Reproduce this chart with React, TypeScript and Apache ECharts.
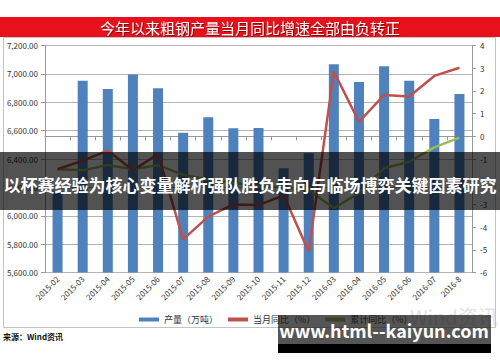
import React, { useEffect, useRef } from "react";
import * as echarts from "echarts";

const categories = ["2015-02","2015-03","2015-04","2015-05","2015-06","2015-07","2015-08","2015-09","2015-10","2015-11","2015-12","2016-03","2016-04","2016-05","2016-06","2016-07","2016-8"];
const output = [6175, 6952, 6893, 6995, 6898, 6585, 6694, 6616, 6618, 6334, 6440, 7067, 6943, 7053, 6952, 6682, 6858];
const monthYoY = [-1.45, -1.07, -0.63, -1.5, -0.78, -4.54, -3.54, -3.0, -3.03, -2.6, -5.08, 2.85, 0.64, 1.82, 1.75, 2.66, 3.02];
const cumYoY = [-1.45, -1.5, -1.26, -1.45, -1.26, -1.7, -1.9, -2.05, -2.2, -2.25, -2.37, -3.17, -2.5, -1.41, -1.12, -0.49, -0.06];
const seriesNames = ["产量（万吨）", "当月同比（%）", "累计同比（%）"];
const titleText = "今年以来粗钢产量当月同比增速全部由负转正";
const bandText = "以杯赛经验为核心变量解析强队胜负走向与临场博弈关键因素研究";
const siteText = "www.html--kaiyun.com";
const sourceText = "来源：Wind资讯";

const FONT = "'Noto Sans CJK SC', 'Noto Sans', sans-serif";

export default function App() {
  const ref = useRef<HTMLDivElement>(null);
  useEffect(() => {
    if (!ref.current) return;
    const chart = echarts.init(ref.current, null, { renderer: "svg" });
    chart.setOption({
      animation: false,
      backgroundColor: "#ffffff",
      grid: { left: 45, right: 28, top: 45.5, bottom: 89.5, containLabel: false },
      legend: {
        data: seriesNames,
        left: 134,
        top: 310,
        itemWidth: 20,
        itemHeight: 4,
        itemGap: 10,
        icon: "rect",
        textStyle: { fontSize: 9, color: "#333", fontFamily: FONT },
      },
      xAxis: {
        type: "category",
        data: categories,
        axisLine: { lineStyle: { color: "#999" } },
        axisTick: { show: true, alignWithLabel: false, length: 4, lineStyle: { color: "#999" } },
        axisLabel: { rotate: 45, fontSize: 8, color: "#333", margin: 5, interval: 0, fontFamily: FONT },
        splitLine: { show: false },
      },
      yAxis: [
        {
          type: "value",
          min: 5600,
          max: 7200,
          interval: 200,
          axisLine: { show: true, lineStyle: { color: "#999" } },
          axisTick: { show: true, length: 4, lineStyle: { color: "#999" } },
          axisLabel: {
            fontSize: 8,
            color: "#333",
            margin: 7,
            fontFamily: FONT,
            formatter: (v: number) => v.toLocaleString("en-US", { minimumFractionDigits: 2, maximumFractionDigits: 2 }),
          },
          splitLine: { show: true, lineStyle: { color: "#b4b4b4", width: 1 } },
        },
        {
          type: "value",
          min: -6,
          max: 4,
          interval: 1,
          position: "right",
          axisLine: { show: true, lineStyle: { color: "#999" } },
          axisTick: { show: true, length: 4, lineStyle: { color: "#999" } },
          axisLabel: { fontSize: 8, color: "#333", margin: 8, fontFamily: FONT },
          splitLine: { show: false },
        },
      ],
      series: [
        {
          name: seriesNames[0],
          type: "bar",
          data: output,
          barWidth: 10,
          itemStyle: { color: "#4F81BD" },
        },
        {
          name: seriesNames[1],
          type: "line",
          yAxisIndex: 1,
          data: monthYoY,
          showSymbol: false,
          symbol: "none",
          lineStyle: { color: "#C0504D", width: 2.5 },
          itemStyle: { color: "#C0504D" },
          z: 4,
        },
        {
          name: seriesNames[2],
          type: "line",
          yAxisIndex: 1,
          data: cumYoY,
          showSymbol: false,
          symbol: "none",
          lineStyle: { color: "#9BBB59", width: 2.5 },
          itemStyle: { color: "#9BBB59" },
          z: 3,
        },
      ],
      graphic: [
        { type: "rect", z: 100, shape: { x: 0, y: 17, width: 500, height: 20 }, style: { fill: "#E8101A" } },
        {
          type: "text", z: 101, x: 250, y: 27,
          style: { text: titleText, fill: "#fff4f4", font: `15px ${FONT}`, textAlign: "center", textVerticalAlign: "middle", textShadowColor: "rgba(80,0,0,0.6)", textShadowBlur: 1, textShadowOffsetX: 1, textShadowOffsetY: 1 },
        },
        { type: "rect", z: 100, shape: { x: 3.5, y: 37.5, width: 492, height: 290 }, style: { fill: "none", stroke: "#c4c4c4", lineWidth: 1 } },
        {
          type: "text", z: 50, x: 410, y: 316,
          style: { text: "Wind资讯", fill: "#e2e2e2", font: `20px ${FONT}`, textAlign: "left", textVerticalAlign: "middle" },
        },
        {
          type: "text", z: 101, x: 3, y: 336,
          style: { text: sourceText, fill: "#111", font: `bold 8px ${FONT}`, textAlign: "left", textVerticalAlign: "middle" },
        },
        { type: "rect", z: 110, shape: { x: 0, y: 152, width: 500, height: 58 }, style: { fill: "rgba(0,0,0,0.68)" } },
        {
          type: "text", z: 111, x: 250, y: 184,
          style: { text: bandText, fill: "#ffffff", font: `bold 17px ${FONT}`, textAlign: "center", textVerticalAlign: "middle" },
        },
        { type: "rect", z: 110, shape: { x: 278, y: 315, width: 213, height: 29 }, style: { fill: "rgba(20,20,20,0.72)" } },
        { type: "rect", z: 110, shape: { x: 278, y: 344, width: 213, height: 9 }, style: { fill: "#000" } },
        {
          type: "text", z: 111, x: 384, y: 330,
          style: { text: siteText, fill: "#ffffff", font: `bold 18px ${FONT}`, textAlign: "center", textVerticalAlign: "middle" },
        },
      ],
    });
    return () => chart.dispose();
  }, []);
  return <div ref={ref} style={{ position: "absolute", left: 0, top: 0, width: 500, height: 362 }} />;
}
